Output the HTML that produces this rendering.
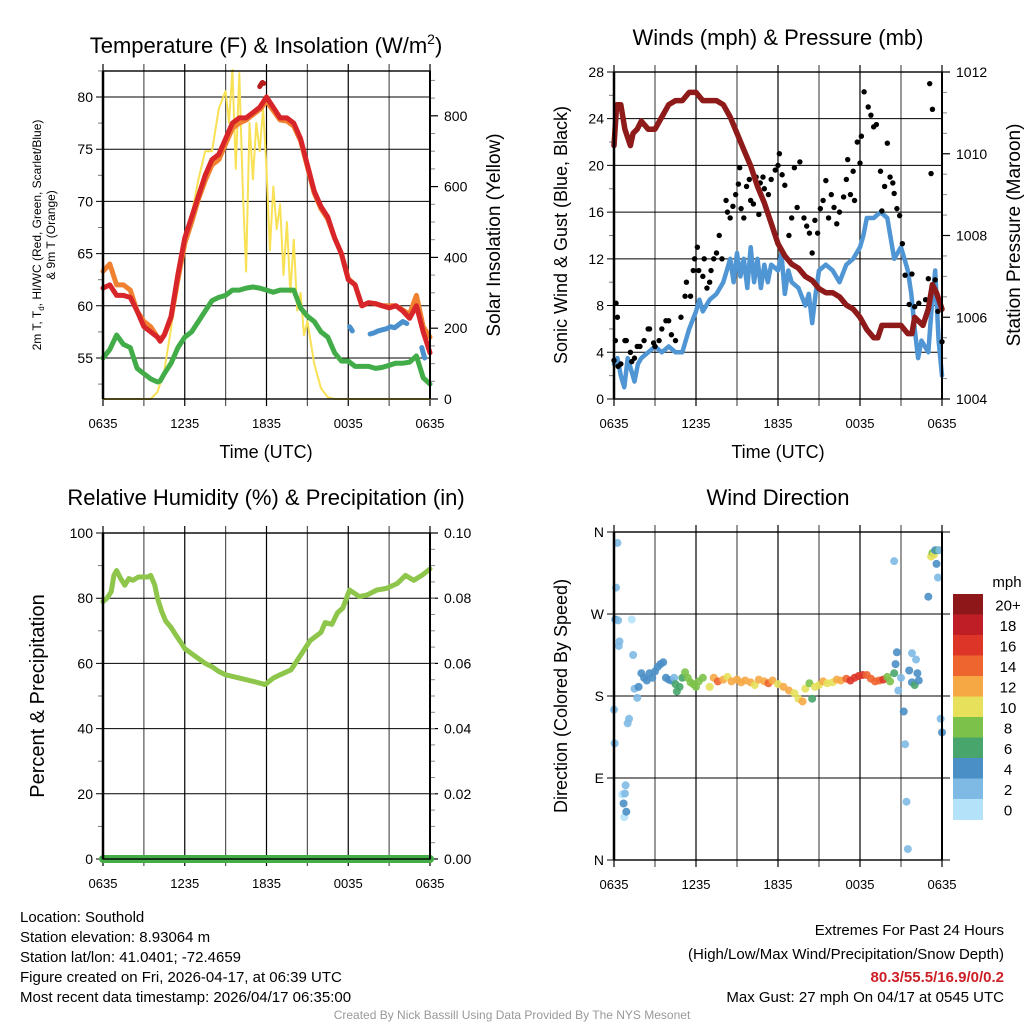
<!DOCTYPE html>
<html><head><meta charset="utf-8"><style>
html,body{margin:0;padding:0;background:#fff;}
svg{display:block;font-family:"Liberation Sans",Arial,sans-serif;}
</style></head><body>
<svg id="fig" width="1024" height="1024" viewBox="0 0 1024 1024" xmlns="http://www.w3.org/2000/svg">
<rect width="1024" height="1024" fill="#fff"/>
<g id="layer"></g>
<g font-size="15" fill="#000">
<text x="20" y="922">Location: Southold</text>
<text x="20" y="942">Station elevation: 8.93064 m</text>
<text x="20" y="962">Station lat/lon: 41.0401; -72.4659</text>
<text x="20" y="982">Figure created on Fri, 2026-04-17, at 06:39 UTC</text>
<text x="20" y="1002">Most recent data timestamp: 2026/04/17 06:35:00</text>
<text x="1004" y="935" text-anchor="end">Extremes For Past 24 Hours</text>
<text x="1004" y="959" text-anchor="end">(High/Low/Max Wind/Precipitation/Snow Depth)</text>
<text x="1004" y="982" text-anchor="end" fill="#cc1f26" font-weight="bold">80.3/55.5/16.9/0/0.2</text>
<text x="1004" y="1002" text-anchor="end">Max Gust: 27 mph On 04/17 at 0545 UTC</text>
<text x="512" y="1019" text-anchor="middle" font-size="12" fill="#999">Created By Nick Bassill Using Data Provided By The NYS Mesonet</text>
</g>
</svg>
<script>
// ---- Temperature panel data ----
const tempT = [0,0.5,1,1.5,2,2.5,3,3.5,4,4.2,4.5,5,5.5,6,6.5,7,7.5,8,8.5,9,9.5,10,10.5,11,11.5,12,12.5,13,13.5,14,14.5,15,15.5,16,16.5,17,17.5,18,18.5,19,19.5,20,20.5,21,21.5,22,22.5,23,23.5,24];
const tempRed = [61.7,62,61,61,60.8,59.5,58,57.5,57,56.6,57.2,59,63,66.5,68.5,70.5,72.5,74,74.5,76,77.5,78,78,78.5,79,80,79,78,78,77.5,76,73.5,71,69.5,68.5,66.5,65,62.5,62,60,60.3,60.2,60,59.8,60,59.5,58.8,60,57.5,55.5];
const tempOrange = [63.3,64,62,62,61.5,59.5,58.5,58,57,56.8,57.2,58.8,62.5,66,68,70.2,72,73.5,74,75.5,77,77.5,77.8,78.3,78.8,79.6,78.7,77.8,77.7,77.2,75.8,73.3,70.8,69.3,68.3,66.5,65,62.6,62,60,60.3,60.2,60,60,60,59.6,59.2,61,58,57];
const tempDew = [55,55.8,57.2,56.3,56,54,53.5,53,52.7,52.8,53.5,54.5,56,57,57.5,58.5,59.5,60.5,60.8,61,61.5,61.5,61.7,61.8,61.7,61.5,61.3,61.5,61.5,61.5,59.8,59,58.5,57.5,57,55.5,54.7,54.7,54.2,54.2,54.2,54,54.1,54.3,54.5,54.5,54.6,55.2,53.1,52.5];
const hiT = [11.5,11.6,11.7,11.8];
const hiV = [81,81.2,81.4,81.3];
const wcT = [18.1,18.2,18.3,null,19.6,19.9,20.2,20.5,20.8,21.1,21.4,21.7,22.0,22.3,null,23.4,23.5,23.6];
const wcV = [58,57.8,57.6,null,57.3,57.4,57.6,57.7,57.8,58,57.9,58.2,58.5,58.3,null,56,55.5,55];
const solT = [0,1,2,3,3.5,4,4.5,5,5.5,6,6.5,7,7.5,8,8.5,9,9.25,9.5,9.75,10,10.25,10.5,10.75,11,11.25,11.5,11.75,12,12.25,12.5,12.75,13,13.25,13.5,13.75,14,14.25,14.5,14.75,15,15.5,16,16.5,17,18,20,22,24];
const solV = [0,0,0,0,0,20,80,200,350,430,520,620,700,700,820,870,780,930,650,920,600,360,780,620,780,700,820,650,420,600,480,550,350,500,300,450,250,300,180,220,100,30,5,0,0,0,0,0];
// ---- Wind panel data ----
const presT = [0,0.2,0.5,0.8,1.2,1.4,1.7,2,2.5,3,3.5,4,4.5,5,5.5,6,6.5,7,7.5,8,8.5,9,9.5,10,10.5,11,11.5,12,12.5,13,13.5,14,14.5,15,15.5,16,16.5,17,17.5,18,18.5,19,19.3,19.6,20,20.5,21,21.5,21.8,22,22.3,22.6,23,23.3,23.6,24];
const presV = [1010.2,1011.2,1011.2,1010.6,1010.2,1010.5,1010.6,1010.8,1010.6,1010.6,1010.9,1011.2,1011.3,1011.3,1011.5,1011.5,1011.3,1011.3,1011.3,1011.2,1010.9,1010.5,1010.1,1009.7,1009.2,1008.8,1008.3,1007.8,1007.5,1007.3,1007.2,1007.0,1006.9,1006.7,1006.6,1006.6,1006.5,1006.3,1006.2,1006.0,1005.7,1005.5,1005.5,1005.8,1005.8,1005.8,1005.8,1005.6,1005.6,1006.0,1005.9,1005.8,1006.2,1006.8,1006.6,1006.2];
const windT = [0,0.25,0.5,0.75,1,1.25,1.5,1.75,2,2.5,3,3.5,4,4.5,5,5.5,6,6.25,6.5,7,7.5,8,8.25,8.5,8.75,9,9.25,9.5,9.75,10,10.25,10.5,10.75,11,11.25,11.5,12,12.25,12.5,12.75,13,13.5,14,14.25,14.5,14.75,15,15.5,16,16.5,17,17.5,18,18.25,18.5,19,19.5,20,20.5,21,21.25,21.5,21.75,22,22.25,22.5,23,23.25,23.5,23.75,24];
const windV = [3,3.5,2,1,3.5,2.5,1.5,3,3.5,4,4.5,4,4.5,4,4,6,7.5,8.5,7.5,8.5,9,10,11,12,10,12.5,10.5,12,9.5,13,10,12,9.5,11.5,10,11.5,11,12.5,9,11,10,9.5,8,9,6.5,9,11,11.5,11,10,11.5,12,13,14,15.5,15.5,16,15.5,12,13,12,11,9,6,3.5,5,4,8,11,5,2];
const gustT = [0,0.1,0.15,0.25,0.3,0.5,0.8,0.9,1.2,1.3,1.5,1.7,1.9,2.2,2.5,2.6,2.9,3,3.3,3.5,3.8,4,4.2,4.5,4.9,5.2,5.3,5.6,5.8,5.9,6.1,6.2,6.5,6.6,6.8,7,7.1,7.3,7.5,7.7,7.9,8.2,8.3,8.5,8.7,8.9,9.1,9.2,9.3,9.5,9.7,9.9,10,10.2,10.4,10.6,10.7,10.9,11,11.3,11.5,11.8,12,12.1,12.3,12.5,12.8,13,13.2,13.4,13.6,13.9,14.1,14.3,14.5,14.7,14.9,15.1,15.3,15.5,15.7,15.9,16.1,16.3,16.5,16.8,17,17.1,17.3,17.5,17.6,17.8,18,18.1,18.3,18.6,18.8,19,19.2,19.5,19.6,19.8,20,20.2,20.4,20.5,20.7,20.9,21.1,21.3,21.6,21.8,22,22.3,22.5,22.8,23,23.1,23.2,23.3,23.5,23.7,24];
const gustV = [3.3,5,8.2,7,2.8,3,5,5,4,3.2,3.5,4.5,4.5,5,6,6,4.8,4.5,5,6,6.7,6.7,5.5,5,7,8.8,10,8.8,11,12,13,11,10.5,12,9.5,10,11,12,12.5,14,12,17,16,15.5,16.5,17.5,18.4,19.8,16.3,15.5,18.2,18.8,17,16.7,19,15.8,18.5,19,18,17.5,18.8,19.6,20,21,19.2,18.3,14,15.5,19.8,16.4,20.3,15.5,14.8,14.2,12.5,15.3,14.2,16.3,17,18.7,15.5,17.5,16.4,15,16,17.3,18.8,20.5,17.5,19.5,17,22,20.2,22.5,26.3,25,24.3,23.3,23.5,19.5,16.1,18.2,21.9,19,18.5,17.6,16.3,15.7,13.3,10.6,8.1,10.7,7.9,8.2,6.5,8.5,10.3,27,19.3,24.8,10.2,7.5,4.9];
// ---- RH panel data ----
const rhT = [0,0.3,0.6,0.8,1,1.3,1.6,1.9,2.2,2.6,3,3.3,3.5,3.8,4,4.3,4.6,5,5.3,5.7,6,6.5,7,7.5,8,8.5,9,10,11,11.9,12.5,13,13.8,14.5,15.2,16,16.3,16.8,17.2,17.6,18.1,18.8,19.4,20.1,20.8,21.6,22.2,22.8,23.4,24];
const rhV = [79,80,82,87,88.5,86,84,86,85.5,86.5,86.5,86.5,87,84,80,76,73,71,69,66.5,64.5,63,61.5,60,59,57.5,56.5,55.5,54.5,53.5,55.5,56.5,58,62.5,67,69.5,72.5,72,75.5,77,82.5,80.5,81,82.5,83,84.5,87,85.5,87,89];
const precipT = [0,24];
const precipV = [0,0];
// ---- Wind direction data ----
const dirT = [0,0.05,0.1,0.15,0.25,0.3,0.35,0.4,0.6,0.7,0.75,0.8,0.85,0.9,1.0,1.1,1.3,1.4,1.5,1.7,1.8,2.0,2.2,2.4,2.6,2.8,3.0,3.2,3.4,3.6,3.8,4.0,4.2,4.4,4.5,4.6,4.8,5.0,5.2,5.4,5.6,5.8,6.0,6.2,6.5,7.0,7.3,7.6,8.0,8.3,8.6,9.0,9.3,9.6,10,10.3,10.6,11,11.3,11.6,12,12.4,12.8,13.2,13.5,13.8,14.0,14.3,14.5,14.7,15,15.3,15.6,16,16.3,16.6,17,17.3,17.6,17.9,18.2,18.5,18.8,19.1,19.4,19.7,20,20.2,20.5,20.6,20.7,20.8,20.5,21.0,21.2,21.3,21.4,21.5,21.6,21.8,21.8,22.0,22.1,22.2,22.3,23.0,23.2,23.3,23.4,23.5,23.6,23.7,23.8,23.7,23.9,24];
const dirV = [165,128,264,299,348,263,235,240,72,62,47,73,82,53,150,155,264,225,188,178,190,205,200,197,205,200,207,212,215,217,200,198,197,200,193,185,190,200,206,200,195,193,190,196,200,190,200,196,198,201,196,198,195,197,195,192,198,196,194,197,193,190,186,183,177,174,188,194,177,190,192,196,194,195,198,197,199,197,200,202,203,203,199,196,197,198,201,196,205,215,228,186,328,200,163,127,64,12,208,227,195,192,220,205,197,289,333,337,335,340,325,340,340,310,155,140];
const dirS = [2,2,4,2,2,2,2,2,0,4,0,2,2,4,2,2,0,2,2,2,4,4,4,4,4,4,4,4,4,4,4,4,4,2,6,6,6,6,8,8,8,8,8,8,8,10,12,14,12,10,12,12,12,12,12,10,12,12,14,12,10,12,12,10,10,12,10,8,6,10,10,12,10,10,12,12,14,16,16,16,16,14,14,14,14,16,8,8,6,4,4,2,2,2,4,2,2,2,4,2,4,6,2,4,4,4,10,8,10,4,4,6,2,2,2,4];
const speedLabels = ["0","2","4","6","8","10","12","14","16","18","20+"];
const speedColors = ["#b4e2f8","#7fbae4","#4a8fc6","#48a56b","#7cc24a","#e6e05a","#f6a844","#ef6530","#dd3629","#c01e27","#8e1719"];

const NS="http://www.w3.org/2000/svg";
const layer=document.getElementById('layer');
function mk(tag,attrs,parent){const e=document.createElementNS(NS,tag);for(const k in attrs)e.setAttribute(k,attrs[k]);(parent||layer).appendChild(e);return e;}
function txt(x,y,s,size,anchor,parent,extra){const e=mk('text',Object.assign({x:x,y:y,'font-size':size,'text-anchor':anchor||'middle',fill:'#000'},extra||{}),parent);e.textContent=s;return e;}

function panel(x0,x1,y0,y1){
  const g=mk('g',{});
  
  
  const xs=t=>x0+(x1-x0)*t/24;
  // vertical gridlines every 3h
  for(let h=0;h<=24;h+=3){
    const l=mk('line',{x1:xs(h),x2:xs(h),y1:y0-7,y2:y1+7,stroke:(h%6===0)?'#000':'#555','stroke-width':1.2},g);
    
    
  }
  const labs=['0635','1235','1835','0035','0635'];
  labs.forEach((s,i)=>{const t=txt(xs(i*6),y1+29,s,13,'middle',g);
    
    });
  return {g:g,xs:xs};
}
function frame(g,x0,x1,y0,y1){
  const r=mk('rect',{x:x0,y:y0,width:x1-x0,height:y1-y0,fill:'none',stroke:'#000','stroke-width':1.4},g);
  
  
  const a=mk('line',{x1:x0,x2:x0,y1:y0,y2:y1,stroke:'#000','stroke-width':2.5},g);
  
  
  const b=mk('line',{x1:x1,x2:x1,y1:y0,y2:y1,stroke:'#000','stroke-width':2},g);
  
  
}
function yAxisL(g,x0,x1,ys,ticks,labels,minor,grid){
  ticks.forEach((v,i)=>{
    if(grid){const l=mk('line',{x1:x0-7,x2:x1,y1:ys(v),y2:ys(v),stroke:'#000','stroke-width':1},g);
      
      }
    const t=txt(x0-10,ys(v)+5,labels[i],14,'end',g);
    
    
  });
  minor.forEach(v=>{const l=mk('line',{x1:x0-5,x2:x0,y1:ys(v),y2:ys(v),stroke:'#777','stroke-width':1},g);
    
    });
}
function yAxisR(g,x1,ys,ticks,labels,minor){
  ticks.forEach((v,i)=>{
    const l=mk('line',{x1:x1,x2:x1+8,y1:ys(v),y2:ys(v),stroke:'#000','stroke-width':1.2},g);
    
    
    const t=txt(x1+14,ys(v)+5,labels[i],14,'start',g);
    
    
  });
  minor.forEach(v=>{const l=mk('line',{x1:x1,x2:x1+5,y1:ys(v),y2:ys(v),stroke:'#888','stroke-width':1},g);
    
    });
}
function pathD(T,V,xs,ys){let d='',pen=false;for(let i=0;i<T.length;i++){if(T[i]===null||V[i]===null){pen=false;continue;}d+=(pen?'L':'M')+xs(T[i]).toFixed(1)+' '+ys(V[i]).toFixed(1);pen=true;}return d;}
function line(g,T,V,xs,ys,color,w,name){const p=mk('path',{d:pathD(T,V,xs,ys),fill:'none',stroke:color,'stroke-width':w,'stroke-linejoin':'round','stroke-linecap':'round'},g);
  
  return p;}
function title(x,y,s,name){const t=txt(x,y,s,22,'middle');return t;}
function vtitle(x,y,s,size,name){const t=txt(0,0,s,size,'middle',layer,{transform:'translate('+x+','+y+') rotate(-90)'});return t;}

// ===== Panel 1: temperature =====
(function(){
  const x0=103,x1=430,y0=71,y1=399;
  const P=panel(x0,x1,y0,y1),g=P.g,xs=P.xs;
  const ys=v=>358-(v-55)*10.44;
  const ysR=v=>399-v*0.354;
  yAxisL(g,x0,x1,ys,[55,60,65,70,75,80],['55','60','65','70','75','80'],[52.5,57.5,62.5,67.5,72.5,77.5,82.5],true);
  const rmin=[];for(let v=50;v<=900;v+=50)if(v%200)rmin.push(v);
  yAxisR(g,x1,ysR,[0,200,400,600,800],['0','200','400','600','800'],rmin);
  line(g,solT,solV,xs,ysR,'#f8e155',2,'solar-insolation-line');
  line(g,tempT,tempDew,xs,ys,'#42ad48',5,'dewpoint-line');
  line(g,tempT,tempOrange,xs,ys,'#f08130',5,'temp-9m-line');
  line(g,tempT,tempRed,xs,ys,'#d8252a',5,'temp-2m-line');
  line(g,wcT,wcV,xs,ys,'#4a90cc',5,'windchill-line');
  line(g,hiT,hiV,xs,ys,'#b71c1c',5,'heat-index-line');
  frame(g,x0,x1,y0,y1);
  const t=txt(266,53,'Temperature (F) & Insolation (W/m',22,'middle');
  const sup=mk('tspan',{'font-size':14,dy:-9},t);sup.textContent='2';
  const cl=mk('tspan',{dy:9},t);cl.textContent=')';
  
  
  const xt=txt(266,458,'Time (UTC)',18);
  const yt=txt(0,0,'',12,'middle',layer,{transform:'translate(41,235) rotate(-90)'});
  
  
  yt.innerHTML='2m T, T<tspan font-size="8" dy="3">d</tspan><tspan dy="-3">, HI/WC (Red, Green, Scarlet/Blue)</tspan>';
  const yt2=txt(0,0,'& 9m T (Orange)',12,'middle',layer,{transform:'translate(55,235) rotate(-90)'});
  
  
  vtitle(500,235,'Solar Insolation (Yellow)',19,'solar-y-axis-title');
})();

// ===== Panel 2: winds =====
(function(){
  const x0=614,x1=942,y0=72,y1=399;
  const P=panel(x0,x1,y0,y1),g=P.g,xs=P.xs;
  const ys=v=>399-v*11.68;
  const ysR=v=>399-(v-1004)*40.875;
  yAxisL(g,x0,x1,ys,[0,4,8,12,16,20,24,28],['0','4','8','12','16','20','24','28'],[2,6,10,14,18,22,26],true);
  const rmin=[];for(let v=1004.5;v<1012;v+=0.5)if(v%2)rmin.push(v);
  yAxisR(g,x1,ysR,[1004,1006,1008,1010,1012],['1004','1006','1008','1010','1012'],rmin);
  line(g,windT,windV,xs,ys,'#5096d4',4.5,'sonic-wind-line');
  gustT.forEach((t,i)=>{const c=mk('circle',{cx:xs(t),cy:ys(gustV[i]),r:2.7,fill:'#000'},g);
    
    });
  line(g,presT,presV,xs,ysR,'#8e1a1a',5.5,'pressure-line');
  frame(g,x0,x1,y0,y1);
  title(778,45,'Winds (mph) & Pressure (mb)','winds-title');
  const xt=txt(778,458,'Time (UTC)',18);
  vtitle(567,235,'Sonic Wind & Gust (Blue, Black)',18,'wind-y-axis-title');
  vtitle(1020,235,'Station Pressure (Maroon)',19,'pressure-y-axis-title');
})();

// ===== Panel 3: RH =====
(function(){
  const x0=103,x1=430,y0=533,y1=859;
  const P=panel(x0,x1,y0,y1),g=P.g,xs=P.xs;
  const ys=v=>859-v*3.26;
  const ysR=v=>859-v*3260;
  yAxisL(g,x0,x1,ys,[0,20,40,60,80,100],['0','20','40','60','80','100'],[10,30,50,70,90],true);
  const rmin=[];for(let v=0.005;v<0.1;v+=0.005)rmin.push(v);
  yAxisR(g,x1,ysR,[0,0.02,0.04,0.06,0.08,0.10],['0.00','0.02','0.04','0.06','0.08','0.10'],rmin);
  line(g,rhT,rhV,xs,ys,'#8dc64b',5,'rh-line');
  line(g,precipT,precipV,xs,ysR,'#44ad48',8,'precip-line');
  frame(g,x0,x1,y0,y1);
  title(266,505,'Relative Humidity (%) & Precipitation (in)','rh-title');
  vtitle(44,696,'Percent & Precipitation',20,'rh-y-axis-title');
})();

// ===== Panel 4: wind direction =====
(function(){
  const x0=614,x1=942,y0=532,y1=860;
  const P=panel(x0,x1,y0,y1),g=P.g,xs=P.xs;
  const ys=v=>860-v*(328/360);
  yAxisL(g,x0,x1+8,ys,[0,90,180,270,360],['N','E','S','W','N'],[],true);
  dirT.forEach((t,i)=>{
    const k=Math.min(10,Math.floor(dirS[i]/2));
    const c=mk('circle',{cx:xs(t),cy:ys(dirV[i]),r:4,fill:speedColors[k],'fill-opacity':0.9},g);
    
    
  });
  frame(g,x0,x1,y0,y1);
  title(778,505,'Wind Direction','wind-direction-title');
  vtitle(567,696,'Direction (Colored By Speed)',18,'direction-y-axis-title');
  const lg=mk('g',{});
  
  
  const cb0=594,ch=20.5;
  for(let i=0;i<speedColors.length;i++){
    const k=speedColors.length-1-i;
    const r=mk('rect',{x:953,y:cb0+i*ch,width:30,height:ch+0.5,fill:speedColors[k]},lg);
    
    
    const t=txt(1008,cb0+i*ch+ch/2+6,speedLabels[k],15,'middle',lg);
    
    
  }
  const u=txt(1007,587,'mph',15,'middle',lg);
  
  
})();
</script>
</body></html>
